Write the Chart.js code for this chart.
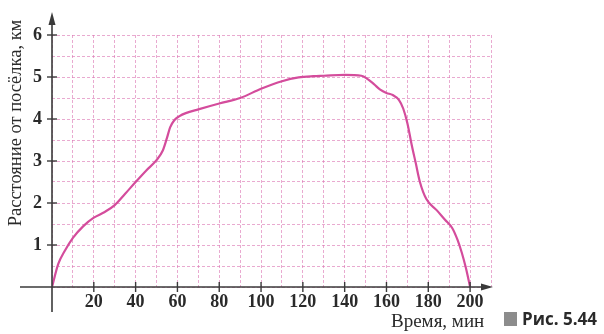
<!DOCTYPE html>
<html>
<head>
<meta charset="utf-8">
<script src="https://cdn.jsdelivr.net/npm/chart.js@4.4.1/dist/chart.umd.min.js"></script>
<style>
html,body{margin:0;padding:0;background:#fff;}
#wrap{position:relative;width:604px;height:334px;}
</style>
</head>
<body>
<div id="wrap"><canvas id="c" width="604" height="334"></canvas></div>
<script>
// Time, minutes
const timeMin = [0, 3, 6, 10, 15, 20, 25, 30, 35, 40, 45, 50, 53, 55, 56.5, 58.5, 61, 64, 70, 80, 90, 100, 110, 118, 125, 130, 140, 148, 151, 154, 157, 160, 163, 166, 168, 170, 172, 174, 176, 179, 184, 188, 191.5, 194, 196, 198, 200];
// Distance from the village, km
const distanceKm = [0, 0.55, 0.85, 1.17, 1.45, 1.65, 1.78, 1.95, 2.22, 2.5, 2.77, 3.02, 3.25, 3.55, 3.8, 3.97, 4.07, 4.14, 4.23, 4.37, 4.5, 4.72, 4.9, 4.99, 5.02, 5.03, 5.05, 5.03, 4.95, 4.83, 4.7, 4.62, 4.57, 4.45, 4.25, 3.9, 3.4, 2.95, 2.5, 2.1, 1.83, 1.6, 1.4, 1.12, 0.82, 0.45, 0];
const xTickLabels = [20, 40, 60, 80, 100, 120, 140, 160, 180, 200];
const yTickLabels = [1, 2, 3, 4, 5, 6];
const xTitle = 'Время, мин';
const yTitle = 'Расстояние от посёлка, км';
const figCaption = 'Рис. 5.44';

const points = timeMin.map((t, i) => ({x: t, y: distanceKm[i]}));

const tickFont = {family: '"Liberation Serif", "DejaVu Serif", serif', size: 18, weight: 'bold'};
const gridColor = 'rgba(220,120,180,0.7)';

const axesPlugin = {
  id: 'axesPlugin',
  afterDraw(chart) {
    const ctx = chart.ctx;
    const xs = chart.scales.x, ys = chart.scales.y;
    const x0 = xs.getPixelForValue(0), y0 = ys.getPixelForValue(0);
    const xEnd = xs.getPixelForValue(210), yTop = ys.getPixelForValue(6);
    ctx.save();
    ctx.strokeStyle = '#3a3a3a';
    ctx.fillStyle = '#3a3a3a';
    ctx.lineWidth = 1.6;
    // x axis
    ctx.beginPath(); ctx.moveTo(20, y0); ctx.lineTo(xEnd - 4, y0); ctx.stroke();
    ctx.beginPath(); ctx.moveTo(xEnd + 2, y0); ctx.lineTo(xEnd - 10, y0 - 3.5); ctx.lineTo(xEnd - 10, y0 + 3.5); ctx.closePath(); ctx.fill();
    // y axis
    ctx.beginPath(); ctx.moveTo(x0, 312); ctx.lineTo(x0, yTop - 18); ctx.stroke();
    ctx.beginPath(); ctx.moveTo(x0, yTop - 23); ctx.lineTo(x0 - 3.5, yTop - 10); ctx.lineTo(x0 + 3.5, yTop - 10); ctx.closePath(); ctx.fill();
    // tick marks
    ctx.lineWidth = 1.4;
    xTickLabels.forEach(v => { const p = xs.getPixelForValue(v); ctx.beginPath(); ctx.moveTo(p, y0 - 5); ctx.lineTo(p, y0 + 5); ctx.stroke(); });
    yTickLabels.forEach(v => { const p = ys.getPixelForValue(v); ctx.beginPath(); ctx.moveTo(x0 - 5, p); ctx.lineTo(x0 + 5, p); ctx.stroke(); });
    // titles
    ctx.fillStyle = '#2a2a2a';
    ctx.font = '18.5px "Liberation Serif", "DejaVu Serif", serif';
    ctx.textAlign = 'center'; ctx.textBaseline = 'middle';
    ctx.save(); ctx.translate(16, 123); ctx.rotate(-Math.PI / 2); ctx.fillText(yTitle, 0, 0); ctx.restore();
    ctx.textAlign = 'left';
    ctx.font = '19px "Liberation Serif", "DejaVu Serif", serif';
    ctx.fillText(xTitle, 391, 322);
    ctx.fillStyle = '#8c8c8c';
    ctx.fillRect(504, 312, 13, 14);
    ctx.fillStyle = '#2a2a2a';
    ctx.font = 'bold 17px "Open Sans", "Noto Sans", sans-serif';
    ctx.fillText(figCaption, 522, 320);
    ctx.restore();
  }
};

new Chart(document.getElementById('c'), {
  type: 'scatter',
  data: {
    datasets: [{
      data: points,
      showLine: true,
      borderColor: '#d44c9c',
      borderWidth: 2.2,
      pointRadius: 0,
      tension: 0.4,
      cubicInterpolationMode: 'monotone',
      fill: false
    }]
  },
  options: {
    responsive: false,
    animation: false,
    layout: {padding: {left: 0, top: 35, right: 113, bottom: 0}},
    plugins: {legend: {display: false}, tooltip: {enabled: false}},
    scales: {
      x: {
        type: 'linear', min: 0, max: 210,
        border: {display: false, dash: [3, 2]},
        grid: {color: gridColor, lineWidth: 0.9, drawTicks: false},
        ticks: {
          stepSize: 10, autoSkip: false, maxRotation: 0, padding: 5,
          color: '#2a2a2a', font: tickFont,
          callback: v => xTickLabels.includes(v) ? String(v) : ''
        },
        afterFit: s => { s.height = 47; }
      },
      y: {
        type: 'linear', min: 0, max: 6,
        border: {display: false, dash: [3, 2]},
        grid: {color: gridColor, lineWidth: 0.9, drawTicks: false},
        ticks: {
          stepSize: 0.5, autoSkip: false, padding: 10,
          color: '#2a2a2a', font: tickFont,
          callback: v => yTickLabels.includes(v) ? String(v) : ''
        },
        afterFit: s => { s.width = 52; }
      }
    }
  },
  plugins: [axesPlugin]
});
</script>
</body>
</html>
